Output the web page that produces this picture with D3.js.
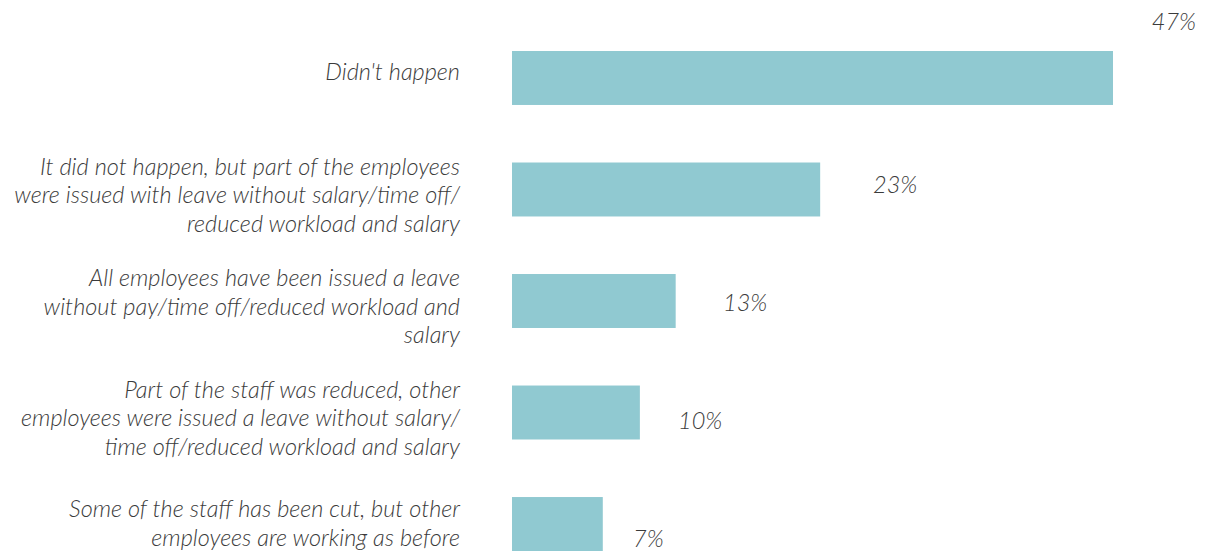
<!DOCTYPE html>
<html>
<head>
<meta charset="utf-8">
<script src="https://cdn.jsdelivr.net/npm/d3@7"></script>
<style>
  html, body { margin: 0; padding: 0; background: #ffffff; }
  svg { display: block; }
  text { font-family: "Lato", "Open Sans", sans-serif; font-style: italic; fill: #3b3b3b; }
</style>
</head>
<body>
<svg id="chart" width="1205" height="552"></svg>
<script>
// ---- data ----
const categories = [
  ["Didn't happen"],
  ["It did not happen, but part of the employees", "were issued with leave without salary/time off/", "reduced workload and salary"],
  ["All employees have been issued a leave", "without pay/time off/reduced workload and", "salary"],
  ["Part of the staff was reduced, other", "employees were issued a leave without salary/", "time off/reduced workload and salary"],
  ["Some of the staff has been cut, but other", "employees are working as before"]
];
const values = [47, 24.1, 12.8, 10, 7.1];
const valueLabels = ["47%", "23%", "13%", "10%", "7%"];

// ---- layout ----
const W = 1205, H = 552;
const barLeft = 512;
const svg = d3.select("#chart");
const idx = d3.range(values.length);

const x = d3.scaleLinear().domain([0, 47]).range([barLeft, 1113]);
const y = d3.scaleBand().domain(idx).range([51, 551]).paddingInner(0.516).paddingOuter(0);
const labelX = d3.scaleLinear().domain([0, 50]).range([528, 1278]);
const labelY = d3.scaleLinear().domain([1, 4]).range([185, 539]);

const fontSize = 23.5, lineH = 28.5;

// bars
svg.selectAll("rect.bar").data(idx).join("rect")
  .attr("class", "bar")
  .attr("x", x(0))
  .attr("y", i => y(i))
  .attr("width", i => x(values[i]) - x(0))
  .attr("height", y.bandwidth())
  .attr("fill", "#90c9d1");

// category labels
const cat = svg.selectAll("text.cat").data(idx).join("text")
  .attr("class", "cat")
  .attr("text-anchor", "end")
  .attr("font-size", fontSize)
  .attr("font-weight", 300);
cat.each(function(i) {
  const lines = categories[i];
  const cy = y(i) + y.bandwidth() / 2 + (lines.length - 2) * 6;
  const top = cy - (lines.length - 1) * lineH / 2;
  d3.select(this).selectAll("tspan").data(lines).join("tspan")
    .attr("x", 460)
    .attr("y", (d, k) => top + k * lineH)
    .attr("dy", "0.32em")
    .text(d => d);
});

// value labels
svg.selectAll("text.val").data(idx).join("text")
  .attr("class", "val")
  .attr("font-size", fontSize)
  .attr("font-weight", 300)
  .attr("dy", "0.35em")
  .each(function(i) {
    const t = d3.select(this).text(valueLabels[i]);
    const w = this.getComputedTextLength();
    let lx = labelX(values[i] < 20 ? Math.round(values[i]) : Math.round(values[i] - 1));
    let ly = labelY(i);
    if (lx + w > W - 8) { lx = W - 9 - w; ly = 22; }
    t.attr("x", lx).attr("y", ly);
  });
</script>
</body>
</html>
